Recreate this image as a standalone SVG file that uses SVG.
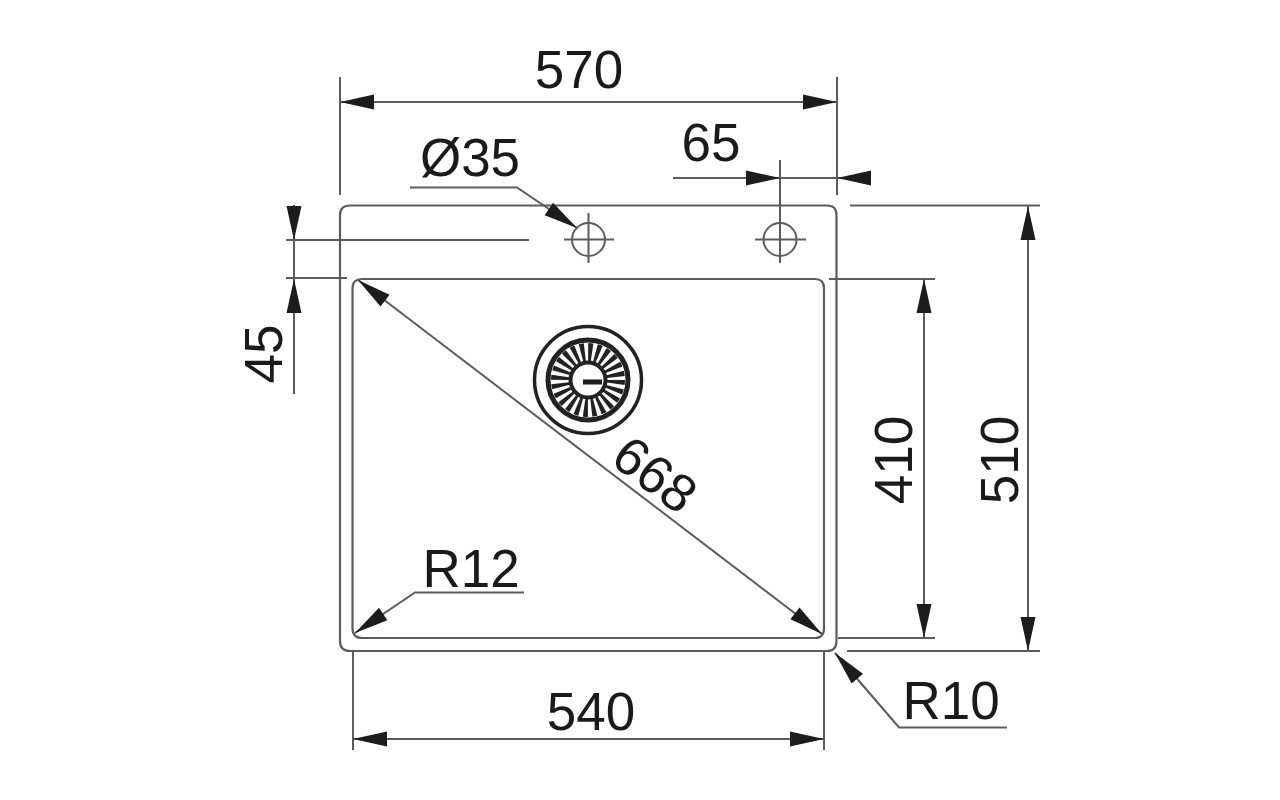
<svg xmlns="http://www.w3.org/2000/svg" width="1280" height="800" viewBox="0 0 1280 800">
<style>
.l{fill:none;stroke:#5c5c5c;stroke-width:2}
.o{fill:none;stroke:#5c5c5c;stroke-width:2.2}
.a{fill:#1c1c1c;stroke:none}
.t{font-family:"Liberation Sans",Arial,sans-serif;font-size:53px;fill:#1a1a1a}
.d{fill:none;stroke:#222}
</style>
<defs><polygon id="h" class="a" points="0,0 -34,-7.500 -34,7.500"/></defs>
<rect width="1280" height="800" fill="#fff"/>
<g id="sink">
<path class="o" d="M350 205.500H827Q836.500 205.500 836.500 215V641Q836.500 651 827 651H350Q340 651 340 641V215Q340 205.500 350 205.500Z"/>
<path class="o" d="M362 279H815Q824 279 824 288V628Q824 638 815 638H362Q352.500 638 352.500 628V288Q352.500 279 362 279Z"/>
</g>
<g id="tap-hole-left"><circle class="l" cx="588.500" cy="239.500" r="16.500"/><path class="l" d="M564 239.500H614M588.500 213V263"/></g>
<g id="tap-hole-right"><circle class="l" cx="780" cy="239.500" r="16.500"/><path class="l" d="M755 239.500H806"/></g>
<g id="drain">
<circle class="d" cx="588" cy="380" r="53.500" stroke-width="3.500"/>
<circle class="d" cx="588" cy="380" r="40" stroke-width="5"/>
<circle class="d" cx="588" cy="380" r="28" stroke-width="18" stroke-dasharray="3.900 3.430"/>
<circle class="d" cx="588" cy="380" r="17.500" stroke-width="4" fill="#fff"/>
<rect class="a" x="583" y="379.500" width="19" height="5"/>
</g>
<g id="connectors">
<path class="l" d="M340 77V195M837 77V195M340 102H837"/>
<use href="#h" transform="translate(340 102) rotate(180)"/><use href="#h" transform="translate(837 102)"/>
<path class="l" d="M673 178H871M780 160V263"/>
<use href="#h" transform="translate(780 178)"/><use href="#h" transform="translate(837 178) rotate(180)"/>
<path class="l" d="M410 187.500H517L577 228"/>
<use href="#h" transform="translate(577 228) rotate(34)"/>
<path class="l" d="M294 205V394M286 240H529M286 278H347"/>
<use href="#h" transform="translate(294 240) rotate(90)"/><use href="#h" transform="translate(294 279) rotate(-90)"/>
<path class="l" d="M850 205.500H1040M829 279H935M838 638H935M847 651H1040"/>
<path class="l" d="M924 279V638M1028 205.500V651"/>
<use href="#h" transform="translate(924 279) rotate(-90)"/><use href="#h" transform="translate(924 638) rotate(90)"/>
<use href="#h" transform="translate(1028 206) rotate(-90)"/><use href="#h" transform="translate(1028 651) rotate(90)"/>
<path class="l" d="M358 280L822 634"/>
<use href="#h" transform="translate(358 280) rotate(217.300)"/><use href="#h" transform="translate(822 634) rotate(37.300)"/>
<path class="l" d="M524 592.500H415L355 633"/>
<use href="#h" transform="translate(355 633) rotate(146)"/>
<path class="l" d="M353 650V750M824 650V750M353 739H824"/>
<use href="#h" transform="translate(353 739) rotate(180)"/><use href="#h" transform="translate(824 739)"/>
<path class="l" d="M1007 727.500H899L835 653"/>
<use href="#h" transform="translate(835 653) rotate(229)"/>
</g>
<g id="labels">
<text class="t" x="579" y="88" text-anchor="middle">570</text>
<text class="t" x="711" y="161" text-anchor="middle">65</text>
<text class="t" x="470" y="176" text-anchor="middle">Ø35</text>
<text class="t" x="471" y="587" text-anchor="middle">R12</text>
<text class="t" x="591" y="730" text-anchor="middle">540</text>
<text class="t" x="951" y="719" text-anchor="middle">R10</text>
<text class="t" transform="translate(282 354) rotate(-90)" text-anchor="middle">45</text>
<text class="t" transform="translate(912 460) rotate(-90)" text-anchor="middle">410</text>
<text class="t" transform="translate(1018 460) rotate(-90)" text-anchor="middle">510</text>
<text class="t" transform="translate(644 489) rotate(37.300)" text-anchor="middle">668</text>
</g>
</svg>
